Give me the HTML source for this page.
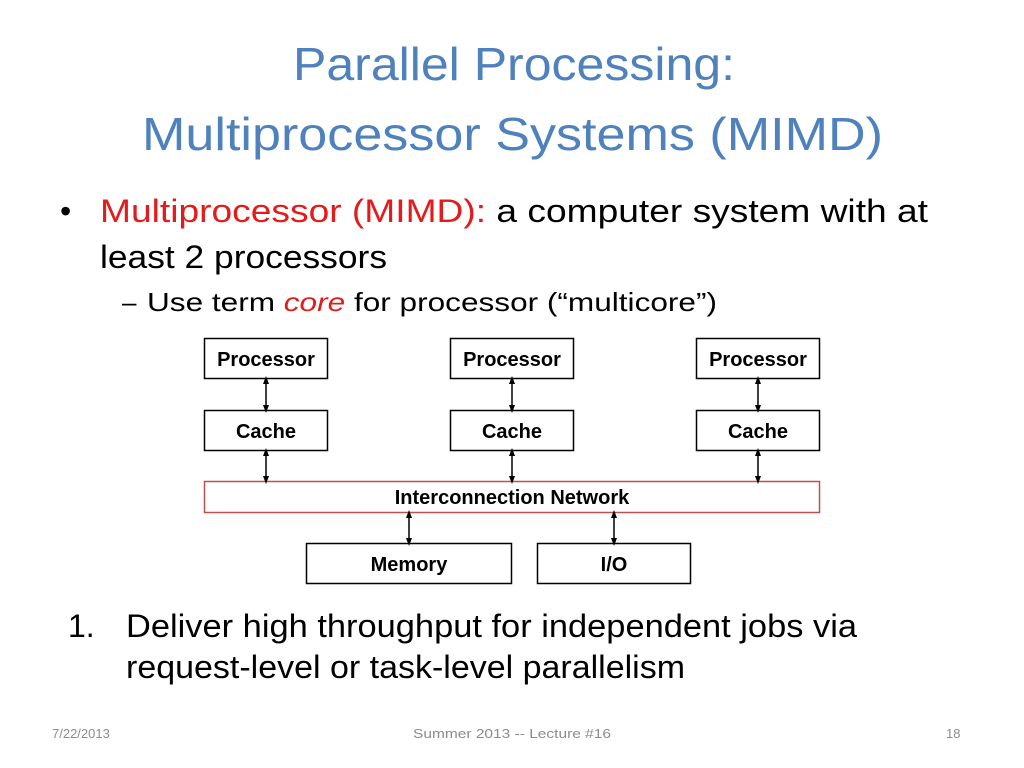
<!DOCTYPE html>
<html><head><style>body{margin:0;background:#fff}svg{display:block}</style></head><body>
<svg width="1024" height="768" xmlns="http://www.w3.org/2000/svg" font-family="Liberation Sans, sans-serif">
<defs><marker id="a" markerWidth="8" markerHeight="8" refX="4" refY="4" orient="auto-start-reverse" markerUnits="userSpaceOnUse"><path d="M0,1 L8,4 L0,7 z" fill="#000"/></marker></defs>
<g fill="#4f81bd" font-size="46">
<text x="293" y="80" textLength="442" lengthAdjust="spacingAndGlyphs">Parallel Processing:</text>
<text x="142" y="150" textLength="741" lengthAdjust="spacingAndGlyphs">Multiprocessor Systems (MIMD)</text>
</g>
<g font-size="32" fill="#000">
<text x="60" y="222">•</text>
<text x="100" y="222" textLength="828" lengthAdjust="spacingAndGlyphs"><tspan fill="#e31b1b">Multiprocessor (MIMD):</tspan> a computer system with at</text>
<text x="100" y="268" textLength="287" lengthAdjust="spacingAndGlyphs">least 2 processors</text>
<text x="68" y="637">1.</text>
<text x="126" y="637" textLength="731" lengthAdjust="spacingAndGlyphs">Deliver high throughput for independent jobs via</text>
<text x="126" y="678" textLength="559" lengthAdjust="spacingAndGlyphs">request-level or task-level parallelism</text>
</g>
<g font-size="26" fill="#000">
<text x="122" y="311">–</text>
<text x="147" y="311" textLength="570" lengthAdjust="spacingAndGlyphs">Use term <tspan fill="#e31b1b" font-style="italic">core</tspan> for processor (“multicore”)</text>
</g>
<g fill="#fff" stroke="#000" stroke-width="1.5">
<rect x="204.5" y="338.5" width="123" height="40"/><rect x="450.5" y="338.5" width="123" height="40"/><rect x="696.5" y="338.5" width="123" height="40"/>
<rect x="204.5" y="410.5" width="123" height="40"/><rect x="450.5" y="410.5" width="123" height="40"/><rect x="696.5" y="410.5" width="123" height="40"/>
<rect x="204.5" y="481.5" width="615" height="31" stroke="#c0504d"/>
<rect x="306.5" y="543.5" width="205" height="40"/><rect x="537.5" y="543.5" width="153" height="40"/>
</g>
<g stroke="#000" stroke-width="1.5" marker-start="url(#a)" marker-end="url(#a)">
<line x1="266" y1="380" x2="266" y2="409"/><line x1="512" y1="380" x2="512" y2="409"/><line x1="758" y1="380" x2="758" y2="409"/>
<line x1="266" y1="452" x2="266" y2="480"/><line x1="512" y1="452" x2="512" y2="480"/><line x1="758" y1="452" x2="758" y2="480"/>
<line x1="409" y1="514" x2="409" y2="542"/><line x1="614" y1="514" x2="614" y2="542"/>
</g>
<g font-size="20" font-weight="bold" text-anchor="middle" fill="#000">
<text x="266" y="366">Processor</text><text x="512" y="366">Processor</text><text x="758" y="366">Processor</text>
<text x="266" y="438">Cache</text><text x="512" y="438">Cache</text><text x="758" y="438">Cache</text>
<text x="512" y="504">Interconnection Network</text>
<text x="409" y="571">Memory</text><text x="614" y="571">I/O</text>
</g>
<g font-size="13" fill="#8c8c8c">
<text x="52" y="738">7/22/2013</text>
<text x="413" y="738" textLength="198" lengthAdjust="spacingAndGlyphs">Summer 2013 -- Lecture #16</text>
<text x="946" y="738">18</text>
</g>
</svg>
</body></html>
